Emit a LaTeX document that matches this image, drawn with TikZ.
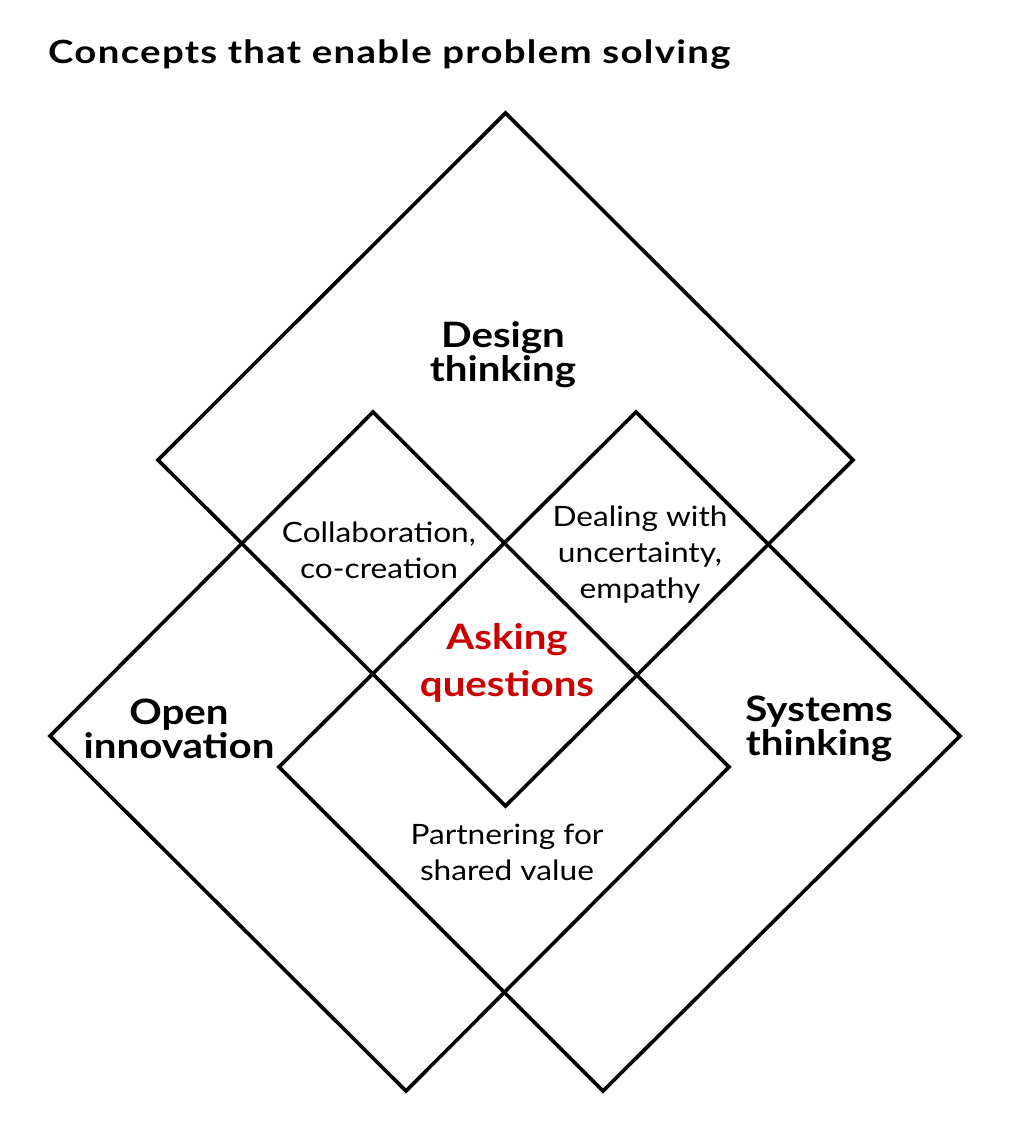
\documentclass[tikz,border=0pt]{standalone}
\usepackage{fontspec}
\setmainfont{Lato}
\newfontfamily\titlefont{Lato}[FakeStretch=1.2,LetterSpace=4]
\newfontfamily\labelfont{Lato}[FakeStretch=1.15]
\newfontfamily\smallfont{Lato}[FakeStretch=1.13]
\definecolor{askred}{HTML}{CC0000}
\begin{document}
\begin{tikzpicture}[x=1pt,y=-1pt,
  frame/.style={draw=black,line width=3.6pt,line join=miter},
  bigbold/.style={font=\labelfont\bfseries\fontsize{35}{34}\selectfont,align=center,inner sep=0pt},
  small/.style={font=\smallfont\fontsize{28}{36}\selectfont,align=center,inner sep=0pt},
  askstyle/.style={font=\labelfont\bfseries\fontsize{35}{47}\selectfont,align=center,inner sep=0pt,text=askred},
  titlestyle/.style={font=\titlefont\bfseries\fontsize{32}{34}\selectfont,inner sep=0pt,anchor=base west}]
\useasboundingbox (0,0) rectangle (1010,1129);
% Design thinking diamond
\coordinate (dt) at (505.5,113);
\coordinate (dr) at (853,460);
\coordinate (db) at (505.5,806);
\coordinate (dl) at (158,460);
% Open innovation
\coordinate (ot) at (373,412);
\coordinate (or) at (729,767);
\coordinate (ob) at (406,1091);
\coordinate (ol) at (50,736);
% Systems thinking
\coordinate (st) at (636,412);
\coordinate (sr) at (960,736);
\coordinate (sb) at (603,1091);
\coordinate (sl) at (279,767);
\draw[frame] (dt) -- (dr) -- (db) -- (dl) -- cycle;
\draw[frame] (ot) -- (or) -- (ob) -- (ol) -- cycle;
\draw[frame] (st) -- (sr) -- (sb) -- (sl) -- cycle;
\node[titlestyle] (title) at (48,64) {Concepts that enable problem solving};
\node[bigbold] (design) at (503,355) {Design\\thinking};
\node[bigbold] (open) at (179,729) {Open\\innovation};
\node[bigbold] (systems) at (819,729) {Systems\\thinking};
\node[small] (collab) at (379,550) {Collaboration,\\co-creation};
\node[small] (deal) at (640,555) {Dealing with\\uncertainty,\\empathy};
\node[askstyle] (ask) at (507,663) {Asking\\questions};
\node[small] (partner) at (507,852) {Partnering for\\shared value};
\end{tikzpicture}
\end{document}
